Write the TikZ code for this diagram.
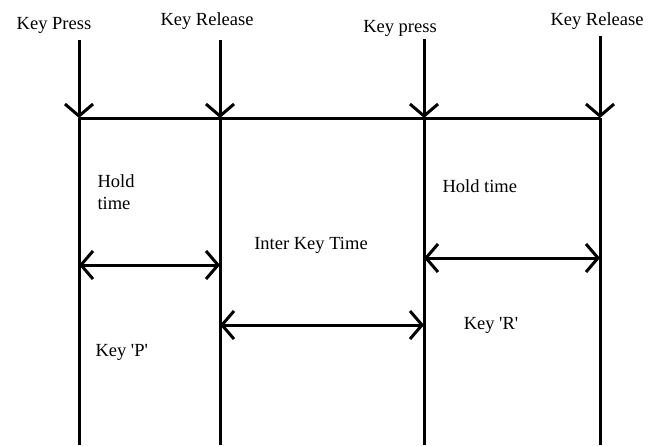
\documentclass[tikz,border=0pt]{standalone}
\usepackage{fontspec}
\setmainfont{Liberation Serif}
\usetikzlibrary{arrows.meta}

\begin{document}
\begin{tikzpicture}[
    x=1pt, y=-1pt,
    line width=3pt,
    down/.style={-{Straight Barb[length=12pt, width=28pt, line width=3pt]}},
    span/.style={{Straight Barb[length=12pt, width=28pt, line width=3pt]}-{Straight Barb[length=12pt, width=28pt, line width=3pt]}},
    lbl/.style={font=\fontsize{18.5}{22}\selectfont, inner sep=0pt, align=left}
]
\useasboundingbox (0,0) rectangle (661,445);

% ---------- Event labels ----------
\node[lbl] (press1) at (54,25) {Key Press};
\node[lbl] (rel1) at (207,21) {Key Release};
\node[lbl] (press2) at (400,28) {Key press};
\node[lbl] (rel2) at (597,21) {Key Release};

% ---------- Time line coordinates ----------
\coordinate (t1) at (79,40);  \coordinate (a1) at (79,118);  \coordinate (b1) at (79,445);
\coordinate (t2) at (220,40); \coordinate (a2) at (220,118); \coordinate (b2) at (220,445);
\coordinate (t3) at (424,39); \coordinate (a3) at (424,118); \coordinate (b3) at (424,445);
\coordinate (t4) at (600,36); \coordinate (a4) at (600,118); \coordinate (b4) at (600,445);

% ---------- Event arrows and lines ----------
\draw[down] (t1) -- (a1);
\draw[down] (t2) -- (a2);
\draw[down] (t3) -- (a3);
\draw[down] (t4) -- (a4);
\draw (a1) -- (b1);
\draw (a2) -- (b2);
\draw (a3) -- (b3);
\draw (a4) -- (b4);
\draw (a1) -- (a4);

% ---------- Intervals ----------
\draw[span] (79,265) coordinate (h1l) -- (220,265) coordinate (h1r);
\draw[span] (220,325) coordinate (ikl) -- (424,325) coordinate (ikr);
\draw[span] (424,258) coordinate (h2l) -- (600,258) coordinate (h2r);

% ---------- Interval labels ----------
\node[lbl, anchor=west] (hold1) at (96,192) {Hold\\time};
\node[lbl] (inter) at (311,245) {Inter Key Time};
\node[lbl, anchor=west] (hold2) at (441,186) {Hold time};
\node[lbl, anchor=west] (keyp) at (94,352) {Key \textquotesingle P\textquotesingle};
\node[lbl] (keyr) at (491,325) {Key \textquotesingle R\textquotesingle};

\end{tikzpicture}
\end{document}
